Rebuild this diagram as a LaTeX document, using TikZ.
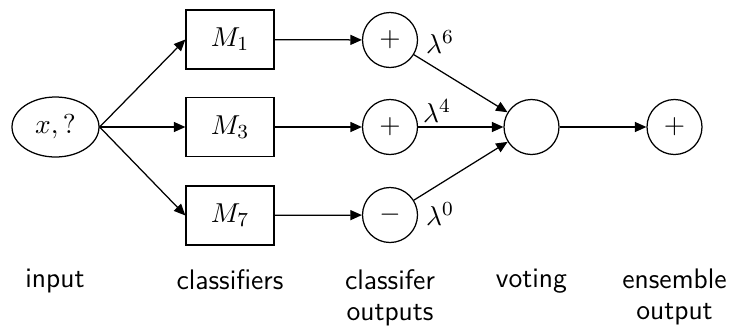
\documentclass[tikz,border=0pt]{standalone}
\usetikzlibrary{arrows.meta,shapes.geometric}
\begin{document}
\begin{tikzpicture}[x=0.4pt,y=-0.4pt,
  every path/.style={line width=0.5pt},
  every node/.style={font=\fontsize{11.3}{12.4}\selectfont},
  arr/.style={-{Triangle[length=4.6pt,width=4pt]}},
  inbox/.style={draw,ellipse,minimum width=34.8pt,minimum height=24pt,inner sep=0pt},
  clbox/.style={draw,rectangle,minimum width=35.2pt,minimum height=23.6pt,inner sep=0pt},
  rnd/.style={draw,circle,minimum size=22pt,inner sep=0pt},
  lab/.style={font=\fontsize{11.3}{12.4}\selectfont\sffamily,align=center,anchor=north,inner sep=0pt}]
\useasboundingbox (0,0) rectangle (732,327);
\node[inbox] (in) at (55.5,127) {$x,?$};
\node[clbox] (m1) at (230,39.5) {$M_1$};
\node[clbox] (m3) at (230,127) {$M_3$};
\node[clbox] (m7) at (230,215.5) {$M_7$};
\node[rnd] (c1) at (390,40) {$+$};
\node[rnd] (c3) at (390,127) {$+$};
\node[rnd] (c7) at (390,215) {$-$};
\node[rnd] (v) at (531.5,127) {};
\node[rnd] (o) at (674.5,127) {$+$};
\node (l6) at (440,42) {$\lambda^6$};
\node (l4) at (437,111) {$\lambda^4$};
\node (l0) at (440,214) {$\lambda^0$};
\draw[arr] (in.east) -- (m1.west);
\draw[arr] (in.east) -- (m3.west);
\draw[arr] (in.east) -- (m7.west);
\draw[arr] (m1) -- (c1);
\draw[arr] (m3) -- (c3);
\draw[arr] (m7) -- (c7);
\draw[arr] (c1) -- (v);
\draw[arr] (c3) -- (v);
\draw[arr] (c7) -- (v);
\draw[arr] (v) -- (o);
\node[lab] (t1) at (55,268.6) {input};
\node[lab] (t2) at (230,268.6) {classifiers};
\node[lab] (t3) at (390,268.6) {classifer\\outputs};
\node[lab] (t4) at (531.5,268.6) {voting};
\node[lab] (t5) at (674.5,268.6) {ensemble\\output};
\end{tikzpicture}
\end{document}
